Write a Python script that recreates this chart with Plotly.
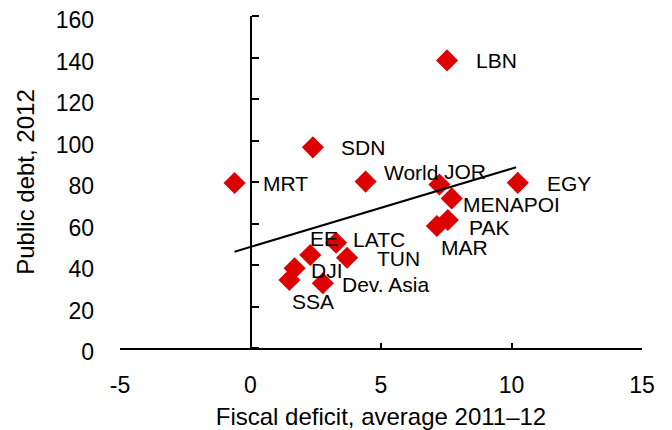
import plotly.graph_objects as go

# Public debt vs fiscal deficit
labels = ["LBN", "SDN", "MRT", "World", "JOR", "MENAPOI", "EGY", "PAK",
          "MAR", "EE", "LATC", "TUN", "DJI", "SSA", "Dev. Asia"]
deficit = [7.53, 2.39, -0.61, 4.41, 7.24, 7.71, 10.24, 7.56,
           7.14, 2.29, 3.28, 3.70, 1.69, 1.49, 2.77]
debt = [138.6, 96.7, 79.5, 80.2, 78.8, 72.1, 79.6, 61.7,
        58.8, 44.8, 50.7, 43.5, 38.4, 32.8, 31.2]

# fitted line end points
trend_x = [-0.61, 10.18]
trend_y = [46.4, 87.1]

x_ticks = [-5, 0, 5, 10, 15]
x_tick_text = ["-5", "0", "5", "10", "15"]
y_ticks = [0, 20, 40, 60, 80, 100, 120, 140, 160]

# label offsets in pixels (dx right, dy down)
label_offsets = {
    "LBN": (27, 0), "SDN": (26, 0), "MRT": (26, 0), "World": (16, -9),
    "JOR": (3, -13), "MENAPOI": (9, 6), "EGY": (27, 1), "PAK": (19, 8),
    "MAR": (2, 22), "EE": (-2, -17), "LATC": (15, -3), "TUN": (28, 1),
    "DJI": (14, 2), "SSA": (1, 22), "Dev. Asia": (17, 1),
}

FONT = "Liberation Sans, Arial, sans-serif"
RED = "#DD0000"

fig = go.Figure()

fig.add_trace(go.Scatter(
    x=deficit, y=debt, mode="markers",
    marker=dict(symbol="diamond", size=17, color=RED, line=dict(width=0)),
    hoverinfo="skip", showlegend=False))

fig.add_trace(go.Scatter(
    x=trend_x, y=trend_y, mode="lines", yaxis="y2",
    line=dict(color="black", width=2),
    hoverinfo="skip", showlegend=False))

for name, xv, yv in zip(labels, deficit, debt):
    dx, dy = label_offsets[name]
    fig.add_annotation(
        x=xv, y=yv, text=name, showarrow=False,
        xanchor="left", yanchor="middle", xshift=dx, yshift=-dy,
        font=dict(family=FONT, size=21, color="black"))

# the page body adds an 8px offset, so margins are trimmed by 8 on top/left
fig.update_layout(
    width=672, height=430,
    margin=dict(l=112, r=38, t=8, b=90),
    paper_bgcolor="white", plot_bgcolor="white",
    font=dict(family=FONT, color="black"),
    xaxis=dict(
        range=[-5, 15], tickvals=x_ticks, ticktext=x_tick_text,
        showgrid=False, zeroline=False, automargin=False,
        showline=True, linecolor="black", linewidth=2,
        ticks="inside", ticklen=5, tickwidth=2, tickcolor="black",
        tickfont=dict(size=23), ticklabelstandoff=15,
        ticklabeloverflow="allow",
        title=dict(text="Fiscal deficit, average 2011\u201312",
                   font=dict(size=24), standoff=12),
    ),
    yaxis=dict(
        range=[0, 160], tickvals=y_ticks, showgrid=False, zeroline=False,
        automargin=False, showline=False, ticks="", tickfont=dict(size=23),
        ticklabelstandoff=25, ticklabelshift=4, ticklabeloverflow="allow",
        title=dict(text="Public debt, 2012", font=dict(size=24), standoff=14),
    ),
    yaxis2=dict(
        range=[0, 160], tickvals=y_ticks, overlaying="y", anchor="free",
        position=0.25, side="right", showgrid=False, zeroline=False,
        automargin=False, showline=True, linecolor="black", linewidth=2,
        ticks="outside", ticklen=7, tickwidth=2, tickcolor="black",
        showticklabels=False,
    ),
)

fig.write_html("out.html")
